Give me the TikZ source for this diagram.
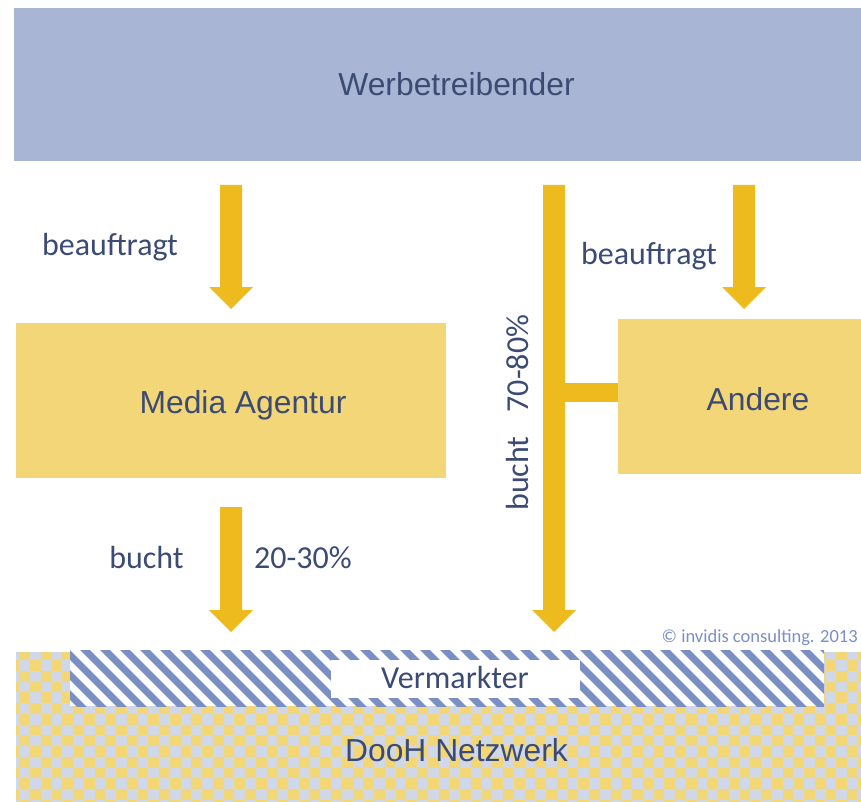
\documentclass[tikz,border=0pt]{standalone}
\usepackage{fontspec}
\setmainfont{Carlito}
\newfontfamily\arialfont{Liberation Sans}
\definecolor{topblue}{RGB}{169,181,212}
\definecolor{boxyellow}{RGB}{242,214,120}
\definecolor{arrowc}{RGB}{238,187,30}
\definecolor{txtblue}{RGB}{59,75,115}
\definecolor{hatchblue}{RGB}{122,143,196}
\definecolor{checkblue}{RGB}{208,215,231}
\definecolor{checkyellow}{RGB}{243,214,118}
\newcommand\fsz[1]{\fontsize{#1}{#1}\selectfont}
% block arrow: centre x, top y, tip y
\newcommand\blockarrow[3]{%
  \fill[arrowc] (#1-11,#2) -- (#1+11,#2) -- (#1+11,#3-22) -- (#1+22,#3-22)
    -- (#1,#3) -- (#1-22,#3-22) -- (#1-11,#3-22) -- cycle;}
\begin{document}
\begin{tikzpicture}[x=1pt,y=-1pt,
  lbl/.style={text=txtblue,inner sep=0pt,anchor=base,font=\fsz{32}},
  title/.style={lbl,font=\arialfont\fsz{31.8}},
  box/.style={fill=#1,draw=none,inner sep=0pt,anchor=north west}]
\useasboundingbox (0,0) rectangle (861,802);

% boxes
\node[box=topblue,minimum width=847pt,minimum height=153pt] (top) at (14,8) {};
\node[box=boxyellow,minimum width=430pt,minimum height=155pt] (media) at (16,323) {};
\node[box=boxyellow,minimum width=243pt,minimum height=155pt] (andere) at (618,319) {};

% checkerboard network area
\coordinate (netNW) at (16,652);
\coordinate (netSE) at (861,802);
\fill[checkblue] (netNW) rectangle (netSE);
\begin{scope}
  \clip (netNW) rectangle (netSE);
  \foreach \i in {0,...,80} {
    \foreach \j in {0,...,14} {
      \pgfmathtruncatemacro\parity{mod(\i+\j,2)}
      \ifnum\parity=1
        \fill[checkyellow] (8.55+\i*10.75,649.25+\j*10.75) rectangle ++(10.75,10.75);
      \fi
    }
  }
\end{scope}

% hatched band
\coordinate (hatchNW) at (70,650);
\coordinate (hatchSE) at (824,706);
\fill[white] (hatchNW) rectangle (hatchSE);
\begin{scope}
  \clip (hatchNW) rectangle (hatchSE);
  \foreach \k in {-4,...,40} {
    \draw[hatchblue,line width=7pt] (55+\k*20,620) -- ++(120,120);
  }
\end{scope}
\node[box=white,minimum width=249pt,minimum height=38pt] (verm) at (331,660) {};

% arrows
\blockarrow{231}{185}{309}
\blockarrow{744}{185}{309}
\blockarrow{554}{185}{632}
\blockarrow{231}{507}{632}
\fill[arrowc] (565,383) rectangle (andere.west |- 0,402);

% labels
\node[title] at (456.5,96) {Werbetreibender};
\node[lbl] at (110,255.7) {beauftragt};
\node[lbl] at (649,264) {beauftragt};
\node[title] at (243,413) {Media Agentur};
\node[title] at (758,410) {Andere};
\node[lbl] at (146.5,568) {bucht};
\node[lbl] at (303,568) {20-30\%};
\node[lbl,rotate=90] at (528,473.5) {bucht};
\node[lbl,rotate=90] at (528,363.5) {70-80\%};
\node[lbl] at (455,688) {Vermarkter};
\node[title] at (456.5,761) {DooH Netzwerk};
\node[lbl,font=\fsz{18.5},text=hatchblue,anchor=base east] at (858,642) {\textcopyright{} invidis consulting. 2013};
\end{tikzpicture}
\end{document}
